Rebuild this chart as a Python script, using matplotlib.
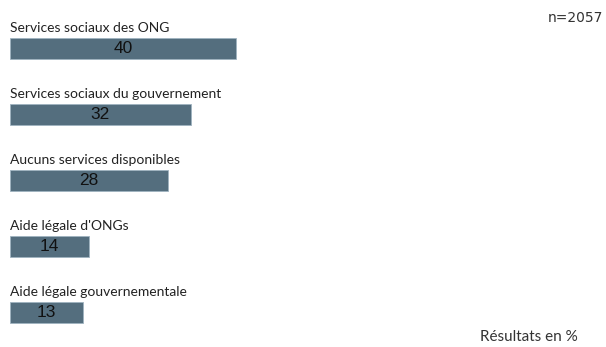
import matplotlib
matplotlib.use('Agg')
import matplotlib.pyplot as plt
import numpy as np

categories = ['Services sociaux des ONG', 'Services sociaux du gouvernement',
              'Aucuns services disponibles', "Aide légale d'ONGs",
              'Aide légale gouvernementale']
values = [40, 32, 28, 14, 13]

bar_color = '#546e7e'

fig = plt.figure(figsize=(6.06, 3.47), dpi=100)
ax = fig.add_axes([0, 0, 1, 1])
ind = np.arange(len(categories))
ax.barh(ind, values, height=0.32, color=bar_color, edgecolor='#9fb3c0', linewidth=0.6)
for i, (cat, val) in enumerate(zip(categories, values)):
    ax.text(0, i - 0.31, cat, ha='left', va='center', fontsize=10,
            family='Lato', color='#222222')
    ax.text(val / 2, i, str(val), ha='center', va='center', fontsize=12.5,
            family='Liberation Sans', color='#111111')
ax.set_xlim(-1.77, 105.5)
ax.set_ylim(4.523, -0.735)
ax.axis('off')
fig.text(0.995, 0.948, 'n=2057', ha='right', va='center', fontsize=10,
         family='DejaVu Sans', color='#333333')
fig.text(0.954, 0.029, 'Résultats en %', ha='right', va='center', fontsize=11,
         family='Lato', color='#333333')
fig.savefig('out.png', dpi=100)
